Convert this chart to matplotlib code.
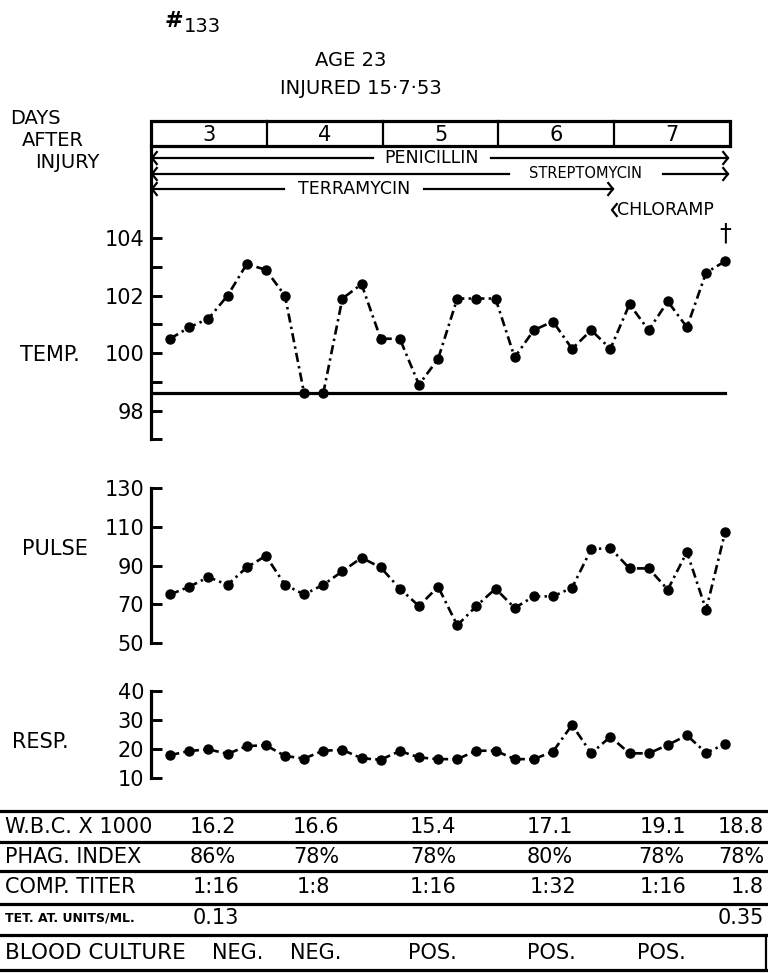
import matplotlib
matplotlib.use("Agg")
import matplotlib.pyplot as plt
from matplotlib.patches import Rectangle

# ---------------- data ----------------
days = ["3", "4", "5", "6", "7"]
hours = [4 * (i + 1) for i in range(30)]  # readings every 4 h, days 3-7

temp = [100.5, 100.9, 101.2, 102.0, 103.1, 102.9, 102.0, 98.6, 98.6, 101.9,
        102.4, 100.5, 100.5, 98.9, 99.8, 101.9, 101.9, 101.9, 99.85, 100.8,
        101.1, 100.15, 100.8, 100.15, 101.7, 100.8, 101.8, 100.9, 102.8, 103.2]
pulse = [75, 79, 84, 80, 89, 95, 80, 75, 80, 87,
         94, 89, 78, 69, 79, 59, 69, 78, 68, 74,
         74, 78.5, 98.5, 99, 88.5, 88.5, 77.5, 97, 67, 107.5]
resp = [17.8, 19.2, 19.8, 18.2, 20.9, 21.2, 17.5, 16.6, 19.3, 19.6,
        16.7, 16.2, 19.2, 17.0, 16.4, 16.4, 19.3, 19.3, 16.4, 16.4,
        19.0, 28.2, 18.4, 24.1, 18.4, 18.4, 21.3, 24.6, 18.6, 21.6]
normal_temp = 98.6

temp_ticks = [97, 98, 99, 100, 101, 102, 103, 104]
temp_labels = ["", "98", "", "100", "", "102", "", "104"]
pulse_ticks = [50, 70, 90, 110, 130]
resp_ticks = [10, 20, 30, 40]

drugs = ["PENICILLIN", "STREPTOMYCIN", "TERRAMYCIN", "CHLORAMP"]

row_labels = ["W.B.C. X 1000", "PHAG. INDEX", "COMP. TITER", "TET. AT. UNITS/ML.", "BLOOD CULTURE"]
wbc = ["16.2", "16.6", "15.4", "17.1", "19.1", "18.8"]
phag = ["86%", "78%", "78%", "80%", "78%", "78%"]
comp = ["1:16", "1:8", "1:16", "1:32", "1:16", "1.8"]
tet = ["0.13", "", "", "", "", "0.35"]
culture = ["NEG.", "NEG.", "POS.", "POS.", "POS."]

# ---------------- figure ----------------
W, H = 768, 973
plt.rcParams["font.family"] = ["DejaVu Sans"]
fig = plt.figure(figsize=(W / 100, H / 100), dpi=100)

ov = fig.add_axes([0, 0, 1, 1])
ov.set_xlim(0, W)
ov.set_ylim(H, 0)
ov.axis("off")


def px_axes(x0, y0, x1, y1):
    a = fig.add_axes([x0 / W, 1 - y1 / H, (x1 - x0) / W, (y1 - y0) / H])
    a.patch.set_visible(False)
    return a


X0, X1 = 151, 730
LS = (0, (3.5, 1.6, 0.9, 1.6))


def style(a, ticks, labels, ylim):
    a.set_xlim(0, 121)
    a.set_ylim(*ylim)
    for s in ["top", "right", "bottom"]:
        a.spines[s].set_visible(False)
    a.spines["left"].set_linewidth(2.3)
    a.set_xticks([])
    a.set_yticks(ticks)
    a.set_yticklabels(labels)
    a.tick_params(axis="y", direction="in", length=8, width=2.1, labelsize=15, pad=5)


# Temperature
at = px_axes(X0, 146, X1, 439.3)
style(at, temp_ticks, temp_labels, (97, 107.21))
at.plot([0, 120], [normal_temp, normal_temp], color="black", lw=2.3)
at.plot(hours, temp, color="black", lw=1.9, ls=LS, marker="o", ms=6.5, clip_on=False)
at.text(hours[-1], temp[-1] + 0.55, "†", ha="center", va="bottom", fontsize=17)

# Pulse
ap = px_axes(X0, 488.3, X1, 642.7)
style(ap, pulse_ticks, [str(v) for v in pulse_ticks], (50, 130))
ap.plot(hours, pulse, color="black", lw=1.9, ls=LS, marker="o", ms=6.5, clip_on=False)

# Resp
ar = px_axes(X0, 690.7, X1, 777.7)
style(ar, resp_ticks, [str(v) for v in resp_ticks], (10, 40))
ar.plot(hours, resp, color="black", lw=1.9, ls=LS, marker="o", ms=6.5, clip_on=False)

# Side labels
ov.text(20, 355, "TEMP.", fontsize=15, va="center", ha="left")
ov.text(22, 549, "PULSE", fontsize=15, va="center", ha="left")
ov.text(12, 742, "RESP.", fontsize=15, va="center", ha="left")

# Header
ov.text(165, 21, "#", fontsize=16, va="center", ha="left", fontweight="bold")
ov.text(184, 26, "133", fontsize=14, va="center", ha="left")
ov.text(351, 60, "AGE 23", fontsize=14, va="center", ha="center")
ov.text(361, 89, "INJURED 15·7·53", fontsize=14, va="center", ha="center")
ov.text(10, 118, "DAYS", fontsize=14, va="center", ha="left")
ov.text(22, 140, "AFTER", fontsize=14, va="center", ha="left")
ov.text(35, 163, "INJURY", fontsize=14, va="center", ha="left")

# Day box
ov.add_patch(Rectangle((X0, 121), X1 - X0, 25, fill=False, lw=2.3, ec="black"))
dw = (X1 - X0) / len(days)
for k, d in enumerate(days):
    if k > 0:
        ov.plot([X0 + k * dw, X0 + k * dw], [121, 146], color="black", lw=1.6)
    ov.text(X0 + (k + 0.5) * dw, 135, d, fontsize=15, ha="center", va="center")


# Drug arrows
def chevron(x, y, direction, size=6):
    ov.plot([x - direction * size * 0.8, x, x - direction * size * 0.8],
            [y - size, y, y + size], color="black", lw=1.6)


def drug_line(y, x_start, x_end, label, xc, tw, fs):
    ov.plot([x_start, xc - tw / 2 - 4], [y, y], color="black", lw=1.6)
    ov.plot([xc + tw / 2 + 4, x_end], [y, y], color="black", lw=1.6)
    ov.text(xc, y, label, fontsize=fs, ha="center", va="center")
    chevron(x_start, y, -1)
    chevron(x_end, y, 1)


drug_line(158, 152, 728, drugs[0], 432, 110, 12.5)
drug_line(174, 152, 728, drugs[1], 586, 146, 10.5)
drug_line(189, 152, 613, drugs[2], 354, 132, 12.5)
chevron(612, 210, -1)
ov.text(617, 210, drugs[3], fontsize=12.5, ha="left", va="center")

# Table
for y in [811, 842, 871, 904, 935]:
    ov.plot([0, 768], [y, y], color="black", lw=2.3)
ov.plot([0, 766], [970, 970], color="black", lw=2.3)
ov.plot([766, 766], [935, 970], color="black", lw=1.6)

ov.text(5, 827, row_labels[0], fontsize=15, va="center", ha="left")
ov.text(5, 857, row_labels[1], fontsize=15, va="center", ha="left")
ov.text(5, 887, row_labels[2], fontsize=15, va="center", ha="left")
ov.text(5, 918, row_labels[3], fontsize=9, va="center", ha="left", fontweight="bold")
ov.text(5, 953, row_labels[4], fontsize=15.5, va="center", ha="left")

for xs, vals, y in [([190, 293, 410, 527, 640], wbc, 827),
                    ([190, 293, 410, 527, 638], phag, 857),
                    ([193, 297, 410, 530, 640], comp, 887),
                    ([193, 0, 0, 0, 0], tet, 918),
                    ([212, 290, 408, 527, 637], culture, 953)]:
    for x, v in zip(xs, vals):
        if v:
            ov.text(x, y, v, fontsize=15, va="center", ha="left")
    if len(vals) > len(xs) and vals[-1]:
        ov.text(764, y, vals[-1], fontsize=15, va="center", ha="right")

fig.savefig("out.png", dpi=100)
